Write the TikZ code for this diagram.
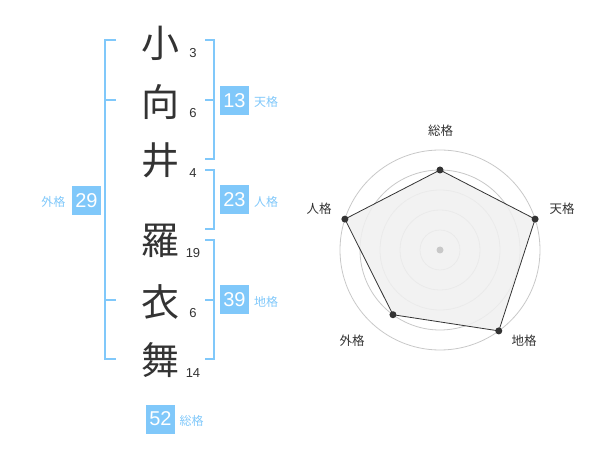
\documentclass[tikz,border=0pt]{standalone}
\usepackage{fontspec}
\setmainfont{Liberation Sans}
\newfontfamily\jp{Noto Sans CJK JP}
\definecolor{brk}{RGB}{128,200,250}
\definecolor{txt}{RGB}{51,51,51}
\definecolor{ringc}{RGB}{200,200,200}
\definecolor{areac}{RGB}{240,240,240}
\begin{document}
\begin{tikzpicture}[x=1pt,y=-1pt,
 kanji/.style={font=\jp\fontsize{38}{38}\selectfont, text=txt, inner sep=0pt},
 cnt/.style={font=\fontsize{13}{13}\selectfont, text=txt, inner sep=0pt},
 numbox/.style={fill=brk, text=white, minimum width=29pt, minimum height=29pt, inner sep=0pt, font=\fontsize{20}{20}\selectfont},
 lbl/.style={font=\jp\fontsize{12}{12}\selectfont, text=brk, inner sep=0pt},
 brkline/.style={draw=brk, line width=2pt},
 ring/.style={draw=ringc, line width=0.8pt},
 rlbl/.style={font=\jp\fontsize{12.5}{12.5}\selectfont, text=txt, inner sep=0pt},
 dot/.style={circle, fill=txt, inner sep=0pt, minimum size=7pt}
]
\path[use as bounding box] (0,0) rectangle (600,470);

% name characters
\node[kanji] (k1) at (160,43) {小};
\node[kanji] (k2) at (160,102) {向};
\node[kanji] (k3) at (160,160) {井};
\node[kanji] (k4) at (160,241) {羅};
\node[kanji] (k5) at (160,302) {衣};
\node[kanji] (k6) at (160,360) {舞};

% stroke counts
\node[cnt] (n1) at (193,53) {3};
\node[cnt] (n2) at (193,113) {6};
\node[cnt] (n3) at (193,173) {4};
\node[cnt] (n4) at (193,253) {19};
\node[cnt] (n5) at (193,313) {6};
\node[cnt] (n6) at (193,373) {14};

% brackets
\draw[brkline] (116,40) -- (105,40) -- (105,359) -- (116,359);
\draw[brkline] (105,100) -- (116,100);
\draw[brkline] (105,300) -- (116,300);
\draw[brkline] (205,40) -- (214,40) -- (214,159) -- (205,159);
\draw[brkline] (214,100) -- (205,100);
\draw[brkline] (205,170) -- (214,170) -- (214,229) -- (205,229);
\draw[brkline] (205,240) -- (214,240) -- (214,359) -- (205,359);
\draw[brkline] (214,300) -- (205,300);

% value boxes and labels
\node[numbox] (b13) at (234.5,100.5) {13};
\node[lbl] (l13) at (266,102) {天格};
\node[numbox] (b23) at (234.5,200) {23};
\node[lbl] (l23) at (266,202) {人格};
\node[numbox] (b39) at (234.5,300) {39};
\node[lbl] (l39) at (266,302) {地格};
\node[numbox] (b29) at (86.5,201) {29};
\node[lbl] (l29) at (53.5,202) {外格};
\node[numbox] (b52) at (160.5,419) {52};
\node[lbl] (l52) at (191.5,421) {総格};

% radar chart
\begin{scope}[shift={(440,250)}]
 \foreach \r in {20,40,60,80,100} \draw[ring] (0,0) circle (\r);
 \coordinate (pS) at (-90:80);
 \coordinate (pT) at (-18:100);
 \coordinate (pC) at (54:100);
 \coordinate (pG) at (126:80);
 \coordinate (pJ) at (198:100);
 \filldraw[fill=areac, fill opacity=0.85, draw=txt, line width=0.8pt] (pS) -- (pT) -- (pC) -- (pG) -- (pJ) -- cycle;
 \foreach \p in {pS,pT,pC,pG,pJ} \node[dot] at (\p) {};
 \node[circle, fill=ringc, inner sep=0pt, minimum size=7pt] (ctr) at (0,0) {};
\end{scope}
\node[rlbl] (rS) at (440.5,130.5) {総格};
\node[rlbl] (rT) at (562,209) {天格};
\node[rlbl] (rC) at (524,341) {地格};
\node[rlbl] (rG) at (352,341) {外格};
\node[rlbl] (rJ) at (319,209) {人格};
\end{tikzpicture}
\end{document}
